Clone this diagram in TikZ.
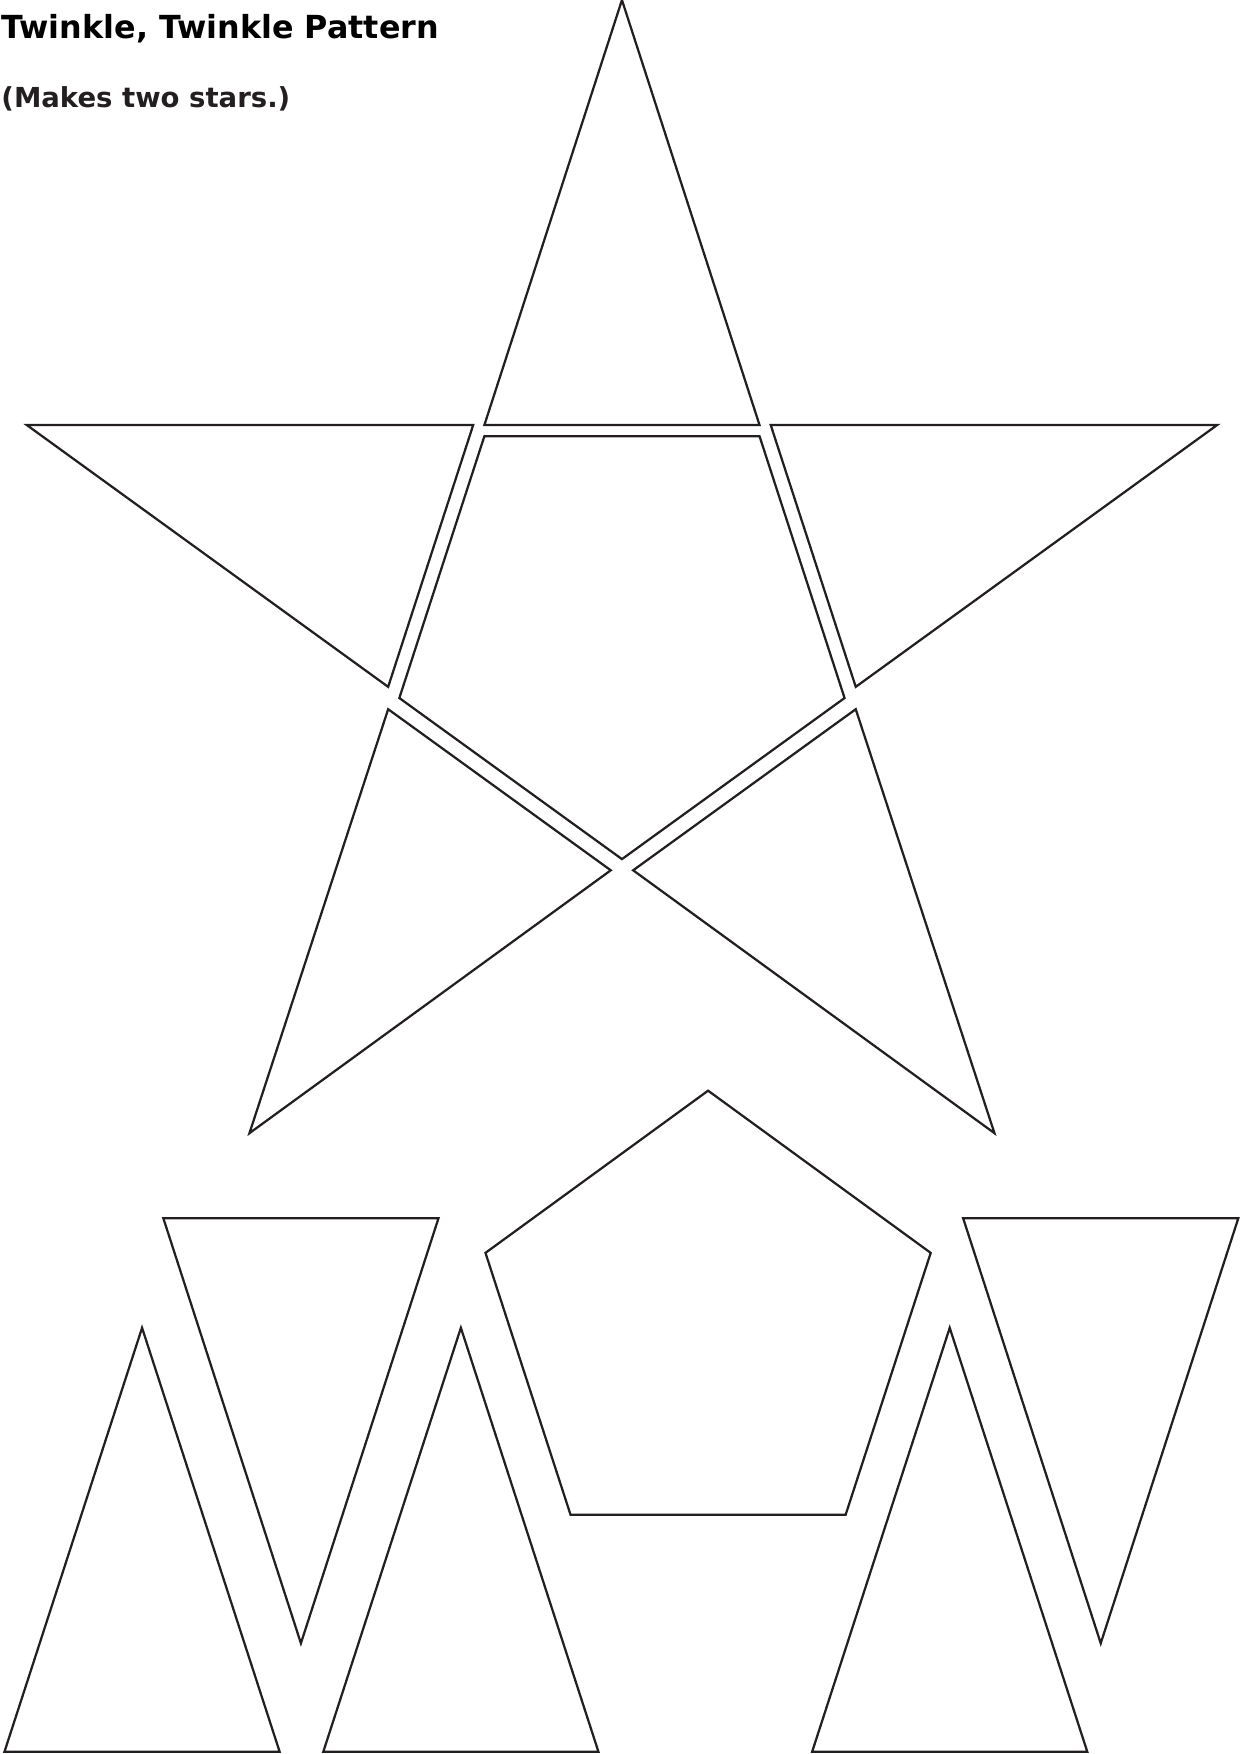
\documentclass[tikz,border=0pt]{standalone}
\usepackage{fontspec}
\setmainfont{DejaVu Sans}
\usepackage{tikz}
\usetikzlibrary{positioning}
\definecolor{InkBlack}{RGB}{35,31,32}
\tikzset{
  piece/.style={draw=InkBlack,line width=0.5mm,line join=miter,miter limit=20},
  headline/.style={font=\fontsize{20.2}{23}\selectfont\bfseries,text=black,inner sep=0pt},
  subline/.style={font=\fontsize{17.5}{20}\selectfont\bfseries,text=InkBlack,inner sep=0pt},
}
\begin{document}
\begin{tikzpicture}[x=0.25mm,y=-0.25mm]
    \useasboundingbox (0,0) rectangle (1108,1568);
    \node[headline,anchor=base west] (title) at (1,34) {Twinkle, Twinkle Pattern};
    \node[subline,below=15.5mm of title.base west,anchor=base west] (sub) {(Makes two stars.)};
    % star, cut apart
    \draw[piece] (556,0) -- (679,380) -- (433,380) -- cycle;
    \draw[piece] (24,380) -- (423,380) -- (347,614) -- cycle;
    \draw[piece] (689,380) -- (1088,380) -- (765,614) -- cycle;
    \draw[piece] (433,390) -- (679,390) -- (755,624) -- (556,768) -- (357,624) -- cycle;
    \draw[piece] (347,634) -- (546,778) -- (223,1013) -- cycle;
    \draw[piece] (765,634) -- (566,778) -- (889,1013) -- cycle;
    % second set of pieces
    \draw[piece] (146,1089) -- (392,1089) -- (269,1469) -- cycle;
    \draw[piece] (127,1187) -- (250,1566) -- (4,1566) -- cycle;
    \draw[piece] (412,1187) -- (535,1566) -- (289,1566) -- cycle;
    \draw[piece] (633,975) -- (832,1120) -- (756,1354) -- (510,1354) -- (434,1120) -- cycle;
    \draw[piece] (849,1187) -- (972,1566) -- (726,1566) -- cycle;
    \draw[piece] (861,1089) -- (1107,1089) -- (984,1469) -- cycle;
\end{tikzpicture}
\end{document}
